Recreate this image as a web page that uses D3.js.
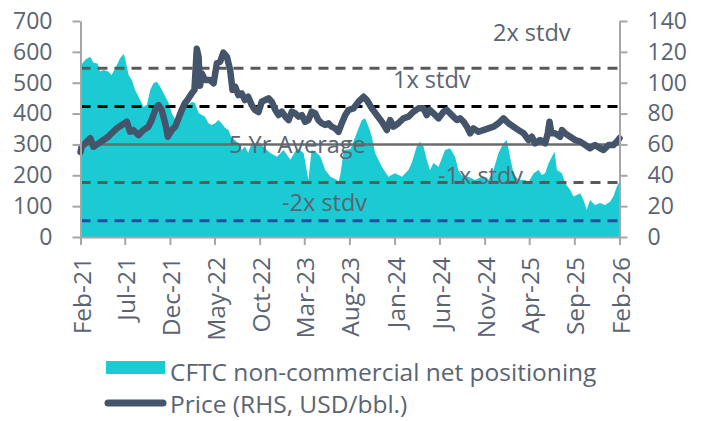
<!DOCTYPE html>
<html>
<head>
<meta charset="utf-8">
<script src="https://cdn.jsdelivr.net/npm/d3@7"></script>
<style>
  html, body { margin: 0; padding: 0; background: #fff; }
  svg { display: block; font-family: "Open Sans", "Noto Sans", sans-serif; }
</style>
</head>
<body>
<svg id="chart" width="705" height="421"></svg>
<script>
// ---------------- DATA ----------------
const xTickLabels = ["Feb-21","Jul-21","Dec-21","May-22","Oct-22","Mar-23","Aug-23","Jan-24","Jun-24","Nov-24","Apr-25","Sep-25","Feb-26"];
const leftTicks = [0, 100, 200, 300, 400, 500, 600, 700];
const rightTicks = [0, 20, 40, 60, 80, 100, 120, 140];

const posDates = ["2021-02-01","2021-02-05","2021-02-18","2021-03-06","2021-03-17","2021-03-31","2021-04-08","2021-04-20","2021-05-06","2021-05-17","2021-05-30","2021-06-15","2021-06-27","2021-07-02","2021-07-14","2021-07-25","2021-08-05","2021-08-22","2021-09-02","2021-09-14","2021-09-25","2021-10-06","2021-10-18","2021-10-29","2021-11-15","2021-11-26","2021-12-07","2021-12-19","2021-12-30","2022-01-10","2022-01-21","2022-02-02","2022-02-13","2022-02-24","2022-03-08","2022-03-19","2022-03-30","2022-04-10","2022-04-21","2022-05-03","2022-05-14","2022-05-25","2022-06-06","2022-06-17","2022-06-28","2022-07-10","2022-07-21","2022-08-01","2022-08-12","2022-08-23","2022-09-04","2022-09-15","2022-09-27","2022-10-14","2022-11-06","2022-11-29","2022-12-21","2023-01-13","2023-02-05","2023-02-27","2023-03-15","2023-03-26","2023-04-13","2023-04-25","2023-05-11","2023-05-29","2023-06-20","2023-06-25","2023-07-02","2023-07-13","2023-08-05","2023-08-21","2023-09-12","2023-09-23","2023-10-05","2023-10-16","2023-10-27","2023-11-19","2023-12-11","2024-01-03","2024-01-26","2024-02-17","2024-02-28","2024-03-16","2024-03-27","2024-04-08","2024-04-19","2024-04-30","2024-05-12","2024-05-29","2024-06-20","2024-07-07","2024-07-24","2024-08-04","2024-08-15","2024-09-07","2024-09-30","2024-10-22","2024-11-14","2024-12-01","2024-12-18","2025-01-04","2025-01-15","2025-01-26","2025-02-07","2025-02-24","2025-03-19","2025-03-30","2025-04-16","2025-05-03","2025-05-14","2025-05-25","2025-06-06","2025-06-17","2025-06-26","2025-07-04","2025-07-21","2025-08-01","2025-08-18","2025-08-29","2025-09-09","2025-09-21","2025-10-02","2025-10-13","2025-10-24","2025-11-10","2025-11-27","2025-12-14","2025-12-31","2026-01-11","2026-01-23","2026-02-01"];
const posValues = [555,560,575,584,565,562,536,541,536,525,547,579,593,579,525,509,476,444,422,428,476,498,503,487,455,436,402,379,411,438,449,428,438,434,402,395,390,369,363,369,379,369,353,347,321,314,298,282,293,272,304,298,309,292,272,260,282,250,288,272,185,282,272,260,217,195,185,175,207,282,285,325,379,385,357,325,272,228,195,207,195,217,240,293,309,293,250,217,240,228,282,288,260,217,200,195,185,195,185,217,272,304,314,260,207,185,185,178,207,217,201,207,240,260,276,217,207,174,152,131,136,142,120,88,120,104,110,104,114,131,163,180];

const priceDates = ["2021-02-01","2021-02-05","2021-02-17","2021-03-06","2021-03-17","2021-04-03","2021-04-20","2021-05-06","2021-05-17","2021-06-04","2021-06-21","2021-07-08","2021-07-19","2021-07-30","2021-08-17","2021-09-02","2021-09-19","2021-09-30","2021-10-12","2021-10-23","2021-11-03","2021-11-15","2021-11-24","2021-12-07","2021-12-19","2021-12-30","2022-01-10","2022-01-21","2022-02-02","2022-02-13","2022-02-22","2022-03-02","2022-03-08","2022-03-13","2022-03-19","2022-03-30","2022-04-16","2022-04-28","2022-05-09","2022-05-20","2022-05-31","2022-06-12","2022-06-23","2022-07-01","2022-07-10","2022-07-21","2022-08-01","2022-08-12","2022-08-23","2022-09-04","2022-09-15","2022-09-27","2022-10-08","2022-10-20","2022-10-31","2022-11-11","2022-11-23","2022-12-04","2022-12-15","2022-12-27","2023-01-07","2023-01-18","2023-01-29","2023-02-10","2023-02-21","2023-03-04","2023-03-15","2023-03-26","2023-04-07","2023-04-18","2023-04-30","2023-05-11","2023-05-22","2023-06-02","2023-06-14","2023-06-25","2023-07-06","2023-07-18","2023-07-29","2023-08-15","2023-09-01","2023-09-18","2023-09-29","2023-10-16","2023-11-02","2023-11-19","2023-12-06","2023-12-17","2023-12-28","2024-01-14","2024-01-31","2024-02-17","2024-03-05","2024-03-22","2024-04-08","2024-04-19","2024-04-30","2024-05-18","2024-05-29","2024-06-15","2024-06-26","2024-07-13","2024-07-30","2024-08-10","2024-08-22","2024-09-02","2024-09-13","2024-09-24","2024-10-11","2024-10-28","2024-11-14","2024-12-01","2024-12-18","2025-01-04","2025-01-21","2025-02-07","2025-02-24","2025-03-13","2025-03-30","2025-04-10","2025-04-21","2025-05-08","2025-05-25","2025-06-03","2025-06-09","2025-06-15","2025-06-28","2025-07-15","2025-07-21","2025-08-01","2025-08-18","2025-09-04","2025-09-21","2025-10-08","2025-10-24","2025-11-10","2025-11-27","2025-12-09","2025-12-26","2026-01-11","2026-01-23","2026-02-01"];
const priceValues = [55,58.5,60.7,64,58.5,60.7,62.9,65,67.2,70.4,72.6,74.7,68.2,69.3,66.1,69.3,71.5,75.8,82.3,85.5,82.3,73.7,65,69.3,71.5,76.9,82.3,86.6,89.9,93.1,95.3,122,116.8,98,106,101.7,101.7,99.6,112.6,113.6,119.5,116.8,108.2,95.3,97.4,92,93.1,88.8,90.9,85.5,82.3,81,87.7,88.8,89.9,87.7,82.3,79,81.2,78,75.8,81.2,80.2,78,79,74.7,75.8,81.2,80.2,75.8,73.7,72.6,73.7,71.5,70.4,68.2,73.7,79,82.3,83.4,87.7,90.9,88.8,83.4,79,74.7,69.3,75.8,71.5,73.7,76.9,78,81.2,83.4,83.4,79,82.3,79,76.9,81.2,82.3,79,75.8,76.9,74.7,71.5,67.2,70.4,68.2,69.3,70.4,71.5,73.7,76.9,73.7,71.5,69.3,67.2,62.9,65,60.7,62.9,60.7,67.2,74.7,67.2,67.2,65,69.3,67.2,65,62.9,61.8,59.6,57.5,59.6,57.5,56.4,59.6,59.6,61.8,64];

const refNames  = ["2x stdv", "1x stdv", "5 Yr Average", "-1x stdv", "-2x stdv"];
const refValues = [547, 423, 300, 177, 53];

const legendLabels = ["CFTC non-commercial net positioning", "Price (RHS, USD/bbl.)"];

// ---------------- LAYOUT / STYLE ----------------
const plot = { left: 80.5, right: 619.5, top: 21, bottom: 237 };
const colors = { area: "#1bcad3", line: "#44546a", axis: "#a6a6a6", text: "#5a6472" };
const refStyles = [
  { color: "#595959", dash: "10,7", width: 3, labelX: 493, dy: -27 },
  { color: "#000000", dash: "10,7", width: 3, labelX: 393, dy: -18 },
  { color: "#6b6b6b", dash: null,   width: 2.5, labelX: 229, dy: 8.5 },
  { color: "#595959", dash: "10,7", width: 3, labelX: 438, dy: 2 },
  { color: "#1f4fa3", dash: "10,7", width: 3, labelX: 282, dy: -9.5 }
];
const fontSize = 23;
const refFontSize = 23.5;
const xFontSize = 24.5;
const legendFontSize = 24.5;

const svg = d3.select("#chart");
const parse = d3.timeParse("%Y-%m-%d");
const tickParse = d3.timeParse("%b-%y");

const x = d3.scaleTime()
  .domain([tickParse(xTickLabels[0]), tickParse(xTickLabels[xTickLabels.length - 1])])
  .range([plot.left, plot.right]);
const yL = d3.scaleLinear().domain([0, 700]).range([plot.bottom, plot.top]);
const yR = d3.scaleLinear().domain([0, 140]).range([plot.bottom, plot.top]);

const posData = posDates.map((d, i) => ({ date: parse(d), v: posValues[i] }));
const priceData = priceDates.map((d, i) => ({ date: parse(d), v: priceValues[i] }));

// Area
svg.append("path")
  .datum(posData)
  .attr("fill", colors.area)
  .attr("d", d3.area().x(d => x(d.date)).y0(yL(0)).y1(d => yL(d.v)));

// Reference lines
refValues.forEach((v, i) => {
  const s = refStyles[i];
  svg.append("line")
    .attr("x1", plot.left).attr("x2", plot.right)
    .attr("y1", yL(v)).attr("y2", yL(v))
    .attr("stroke", s.color)
    .attr("stroke-width", s.width)
    .attr("stroke-dasharray", s.dash);
});

// Price line
svg.append("path")
  .datum(priceData)
  .attr("fill", "none")
  .attr("stroke", colors.line)
  .attr("stroke-width", 6.5)
  .attr("stroke-linejoin", "round")
  .attr("stroke-linecap", "round")
  .attr("d", d3.line().x(d => x(d.date)).y(d => yR(d.v)));

// Reference labels
refValues.forEach((v, i) => {
  const s = refStyles[i];
  svg.append("text")
    .attr("x", s.labelX)
    .attr("y", yL(v) + s.dy)
    .attr("fill", colors.text)
    .attr("font-size", refFontSize)
    .text(refNames[i]);
});

// Axes
function styleAxis(g, fs) {
  g.selectAll(".domain").attr("stroke", colors.axis).attr("stroke-width", 2);
  g.selectAll(".tick line").attr("stroke", colors.axis).attr("stroke-width", 2);
  g.selectAll("text").attr("fill", colors.text).attr("font-size", fs)
    .attr("font-family", "Open Sans, Noto Sans, sans-serif");
}

const gL = svg.append("g").attr("transform", `translate(${plot.left},0)`)
  .call(d3.axisLeft(yL).tickValues(leftTicks).tickSize(8).tickSizeOuter(0).tickPadding(20));
styleAxis(gL, fontSize);

const gR = svg.append("g").attr("transform", `translate(${plot.right},0)`)
  .call(d3.axisRight(yR).tickValues(rightTicks).tickSize(8).tickSizeOuter(0).tickPadding(20));
styleAxis(gR, fontSize);

const gX = svg.append("g").attr("transform", `translate(0,${plot.bottom})`)
  .call(d3.axisBottom(x).tickValues(xTickLabels.map(tickParse)).tickSize(8).tickSizeOuter(0)
    .tickFormat((d, i) => xTickLabels[i]));
styleAxis(gX, xFontSize);
gX.selectAll("text")
  .attr("transform", "rotate(-90)")
  .attr("text-anchor", "end")
  .attr("x", -20)
  .attr("y", 1)
  .attr("dy", "0.35em");

// Legend
const lg = svg.append("g");
lg.append("rect").attr("x", 106).attr("y", 361).attr("width", 59).attr("height", 13).attr("fill", colors.area);
lg.append("text").attr("x", 170).attr("y", 381).attr("fill", colors.text).attr("font-size", legendFontSize).text(legendLabels[0]);
lg.append("line").attr("x1", 108).attr("x2", 163).attr("y1", 403).attr("y2", 403)
  .attr("stroke", colors.line).attr("stroke-width", 7).attr("stroke-linecap", "round");
lg.append("text").attr("x", 170).attr("y", 413).attr("fill", colors.text).attr("font-size", legendFontSize).text(legendLabels[1]);
</script>
</body>
</html>
